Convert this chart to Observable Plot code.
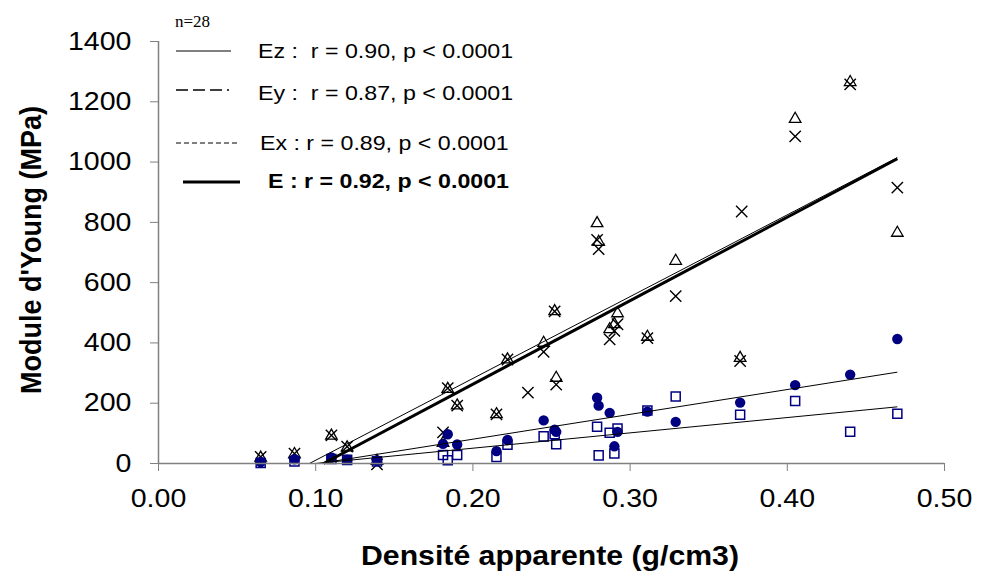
<!DOCTYPE html>
<html><head><meta charset="utf-8">
<script src="https://cdn.jsdelivr.net/npm/d3@7"></script>
<script src="https://cdn.jsdelivr.net/npm/@observablehq/plot@0.6"></script>
<style>
body{margin:0;background:#fff}
#chart svg{display:block}
</style>
</head><body><div id="chart"></div>
<script>
// Densité apparente (g/cm3) of each sample
const density = [0.065, 0.0865, 0.110, 0.120, 0.139, 0.181, 0.184, 0.190, 0.215, 0.222, 0.235, 0.245, 0.252, 0.253, 0.279, 0.280, 0.287, 0.290, 0.292, 0.311, 0.329, 0.370, 0.371, 0.405, 0.440, 0.470];
// Module d'Young (MPa) per marker series (null = not shown)
const triangleValues = [19, 31, 92, 53, 8, 68, 247, 192, 163, 345, null, 400, 505, 284, 797, 735, 445, 462, 498, 420, 672, 350, null, 1143, 1265, 765];
const crossValues    = [22, 33, 93, 56, -3, 103, 250, 192, 163, 345, 235, 370, 505, 262, 742, 711, 412, 440, 462, 416, 555, 340, 836, 1085, 1258, 915];
const circleValues   = [5, 14, 20, 13, 10, 65, 97, 63, 41, 78, null, 143, 112, 105, 218, 192, 168, 57, 105, 172, 138, 202, null, 260, 295, 413];
const squareValues   = [2, 7, 15, 12, 7, 28, 11, 28, 22, 62, null, 90, 97, 64, 122, 27, 102, 33, 116, 176, 222, 162, null, 207, 105, 165];

// Regression lines (start where E = 0, end at last density)
const fitNames = ["thin upper", "E bold", "circle fit", "square fit"];
const fitStartX = [0.096, 0.105, 0.102, 0.100];
const fitStartY = [0, 0, 0, 0];
const fitEndX = [0.47, 0.47, 0.47, 0.47];
const fitEndY = [1015, 1011, 303, 188];

// Axes
const xTicks = [0, 0.1, 0.2, 0.3, 0.4, 0.5];
const yTicks = [0, 200, 400, 600, 800, 1000, 1200, 1400];

// Legend
const nLabel = "n=28";
const legendLabels = ["Ez :  r = 0.90, p < 0.0001", "Ey :  r = 0.87, p < 0.0001", "Ex : r = 0.89, p < 0.0001", "E : r = 0.92, p < 0.0001"];
const xTitle = "Densité apparente (g/cm3)";
const yTitle = "Module d'Young (MPa)";

const rows = vals => density.map((x, i) => ({x, y: vals[i]})).filter(d => d.y != null);
const fits = fitNames.map((name, i) => ({name, x1: fitStartX[i], y1: fitStartY[i], x2: fitEndX[i], y2: fitEndY[i]}));

const font = "'Liberation Sans', Arial, sans-serif";
const navy = "#000080";
const gray = "#808080";
const SX = 1.12;

const chart = Plot.plot({
  width: 982, height: 583,
  marginLeft: 158, marginRight: 38, marginTop: 41, marginBottom: 120,
  style: {fontFamily: font, fontSize: "25.5px", background: "#fff", color: "#000"},
  x: {domain: [0, 0.5], ticks: xTicks, tickFormat: d => d.toFixed(2), tickSize: 8, tickPadding: 17, label: null},
  y: {domain: [0, 1400], ticks: yTicks, tickFormat: d => String(d), tickSize: 8, tickPadding: 19, label: null},
  marks: [
    Plot.dot(rows(triangleValues), {x: "x", y: "y", symbol: "triangle", r: 4.3, stroke: "black", fill: "none", strokeWidth: 1.3}),
    Plot.dot(rows(crossValues), {x: "x", y: "y", symbol: "times", r: 5.2, stroke: "black", strokeWidth: 1.4}),
    Plot.dot(rows(circleValues), {x: "x", y: "y", symbol: "circle", r: 5.2, fill: navy, stroke: "none"}),
    Plot.dot(rows(squareValues), {x: "x", y: "y", symbol: "square", r: 5.1, stroke: navy, fill: "none", strokeWidth: 1.5}),
    Plot.link(fits.filter(d => d.name !== "E bold"), {x1: "x1", y1: "y1", x2: "x2", y2: "y2", stroke: "black", strokeWidth: 1}),
    Plot.link(fits.filter(d => d.name === "E bold"), {x1: "x1", y1: "y1", x2: "x2", y2: "y2", stroke: "black", strokeWidth: 3}),
    Plot.ruleX([0], {stroke: gray, strokeWidth: 1.5}),
    Plot.ruleY([0], {stroke: gray, strokeWidth: 1.5})
  ]
});

document.getElementById("chart").appendChild(chart);
const svg = d3.select(chart);

// gray axis ticks
svg.selectAll("[aria-label='x-axis tick'], [aria-label='y-axis tick']").attr("stroke", gray);
svg.selectAll("[aria-label='x-axis tick'] path, [aria-label='y-axis tick'] path").attr("stroke", gray);

// horizontally stretch all tick label text about its anchor
svg.selectAll("text").each(function() {
  const t = d3.select(this);
  const tr = t.attr("transform");
  if (tr) t.attr("transform", tr + ` scale(${SX},1)`);
  else {
    const x = +(t.attr("x") || 0), y = +(t.attr("y") || 0);
    t.attr("x", null).attr("y", null).attr("transform", `translate(${x},${y}) scale(${SX},1)`);
  }
});

const g = svg.append("g");
function addText(txt, x, y, opts = {}) {
  return g.append("text")
    .attr("transform", `translate(${x},${y}) scale(${opts.sx || SX},1)` + (opts.rotate ? ` rotate(${opts.rotate})` : ""))
    .attr("font-family", opts.family || font)
    .attr("font-size", opts.size || 20)
    .attr("font-weight", opts.weight || "normal")
    .attr("text-anchor", opts.anchor || "start")
    .attr("dy", "0.35em")
    .attr("fill", "#000")
    .text(txt);
}

// axis titles
addText(xTitle, 550, 556, {size: 27, weight: "bold", anchor: "middle"});
addText(yTitle, 30, 250, {size: 27, weight: "bold", anchor: "middle", rotate: -90});

// legend
addText(nLabel, 175, 21, {family: "'Liberation Serif', 'Times New Roman', serif", size: 17, sx: 1});
const legendLines = [
  {x1: 176, x2: 231, y: 51, w: 1, dash: null},
  {x1: 176, x2: 234, y: 90, w: 1.4, dash: "12,5,12,5,12,5,2"},
  {x1: 176, x2: 238, y: 143, w: 1, dash: "5,3"},
  {x1: 183, x2: 240, y: 182, w: 3, dash: null}
];
const legendTextPos = [{x: 258, y: 51}, {x: 258, y: 93}, {x: 260, y: 143}, {x: 268, y: 181}];
legendLines.forEach((l, i) => {
  g.append("line").attr("x1", l.x1).attr("x2", l.x2).attr("y1", l.y).attr("y2", l.y)
    .attr("stroke", "black").attr("stroke-width", l.w).attr("stroke-dasharray", l.dash);
  addText(legendLabels[i], legendTextPos[i].x, legendTextPos[i].y, {size: 20, sx: 1.16, weight: i === 3 ? "bold" : "normal"});
});
</script>
</body></html>
